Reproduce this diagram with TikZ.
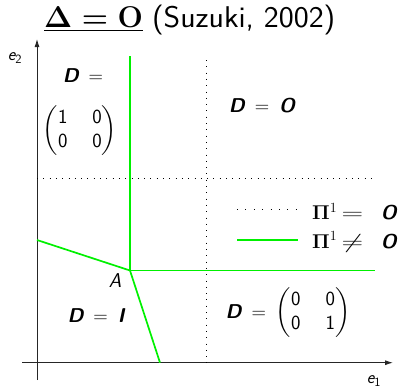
\RequirePackage{fix-cm}
\documentclass[tikz,border=0pt]{standalone}
\usepackage{amsmath}
\usepackage{graphicx}
\usetikzlibrary{arrows.meta}
\newcommand{\sD}{\textsf{\bfseries\itshape D}}
\newcommand{\sI}{\textsf{\bfseries\itshape I}}
\newcommand{\sO}{\textsf{\bfseries\itshape O}}
\newcommand{\sn}[1]{\textsf{#1}}
\newcommand{\wide}{\thickmuskip=9mu plus 2mu\arraycolsep=12.5pt}
\definecolor{brightgreen}{RGB}{0,240,0}
\tikzset{
  lbl/.style={inner sep=0pt, font=\fontsize{20}{24}\selectfont\wide},
  axis/.style={draw=black!85, line width=0.9pt, -{Latex[length=8pt,width=5pt]}},
  gline/.style={draw=brightgreen, line width=1.7pt},
  dline/.style={draw=black, line width=1pt, dash pattern=on 0.9pt off 5.4pt},
  legdot/.style={draw=black, line width=1pt, dash pattern=on 0.9pt off 7.5pt},
}
\begin{document}
\begin{tikzpicture}[x=1pt,y=-1pt]
\useasboundingbox (0,0) rectangle (406,388);
% title
\node[anchor=base west, inner sep=0pt, font=\fontsize{30}{33}\selectfont] (title) at (44,27)
  {{\boldmath$\underline{\mathbf{\Delta}=\mathbf{O}}$}\hspace{9pt}\scalebox{1.06}[1]{\textsf{(Suzuki, 2002)}}};
% axes
\coordinate (xs) at (22,362.7);
\coordinate (xe) at (393,362.7);
\coordinate (ys) at (37,380);
\coordinate (ye) at (37,39);
\draw[axis] (xs) -- (xe);
\draw[axis] (ys) -- (ye);
\node[lbl, font=\fontsize{18}{20}\selectfont] (e2) at (15,58) {$\textsf{\itshape e}_{\textsf{2}}$};
\node[lbl, font=\fontsize{18}{20}\selectfont] (e1) at (374,381) {$\textsf{\itshape e}_{\textsf{1}}$};
% dotted lines
\coordinate (dv1) at (206.5,60);
\coordinate (dv2) at (206.5,362.7);
\coordinate (dh1) at (37,178.5);
\coordinate (dh2) at (375,178.5);
\draw[dline] (dv1) -- (dv2);
\draw[dline] (dh1) -- (dh2);
% green lines
\coordinate (A) at (130,270.5);
\coordinate (g1) at (130,56);
\coordinate (g2) at (375,270.5);
\coordinate (g3) at (37,240);
\coordinate (g4) at (160,362.7);
\draw[gline] (g1) -- (A);
\draw[gline] (A) -- (g2);
\draw[gline] (g3) -- (A);
\draw[gline] (A) -- (g4);
\node[lbl] (Alab) at (115,281) {\textsf{\itshape A}};
% region labels
\node[lbl] (d1) at (83,76) {$\sD =$};
\node[lbl] (m1) at (80,131) {$\begin{pmatrix}\sn{1} & \sn{0}\\ \sn{0} & \sn{0}\end{pmatrix}$};
\node[lbl] (d2) at (262,106) {$\sD = \sO$};
\node[lbl] (d3) at (96,316) {$\sD = \sI$};
\node[lbl] (d4) at (288,313) {$\sD = \begin{pmatrix}\sn{0} & \sn{0}\\ \sn{0} & \sn{1}\end{pmatrix}$};
% legend
\coordinate (l1a) at (237,209.5);
\coordinate (l1b) at (296,209.5);
\coordinate (l2a) at (237,240);
\coordinate (l2b) at (298,240);
\draw[legdot] (l1a) -- (l1b);
\draw[gline] (l2a) -- (l2b);
\node[lbl, anchor=west] (leg1) at (312,212)
  {$\mathbf{\Pi}^1\mkern4mu\scalebox{1.5}[1]{$=$}\mkern16mu\sO$};
\node[lbl, anchor=west] (leg2) at (312,242)
  {$\mathbf{\Pi}^1\mkern4mu\scalebox{1.5}[1]{$\neq$}\mkern16mu\sO$};
\end{tikzpicture}
\end{document}
